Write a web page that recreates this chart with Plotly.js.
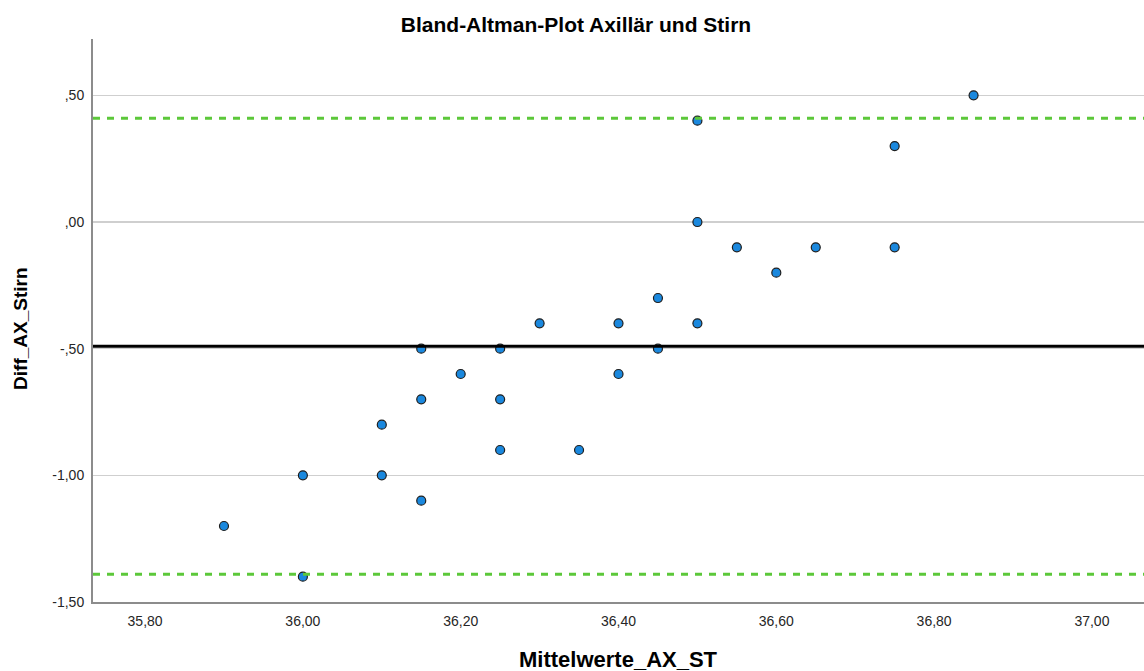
<!DOCTYPE html>
<html>
<head>
<meta charset="utf-8">
<script src="https://cdn.plot.ly/plotly-3.0.1.min.js"></script>
<style>
  html, body { margin: 0; padding: 0; background: #ffffff; }
  #chart { width: 1144px; height: 671px; }
</style>
</head>
<body>
<div id="chart"></div>
<script>
const meanValues = [35.90, 36.00, 36.00, 36.10, 36.10, 36.15, 36.15, 36.15, 36.20, 36.25, 36.25, 36.25,
                    36.30, 36.35, 36.40, 36.40, 36.45, 36.45, 36.50, 36.50, 36.50, 36.55, 36.60, 36.65,
                    36.75, 36.75, 36.85];
const diffValues = [-1.20, -1.00, -1.40, -0.80, -1.00, -0.50, -0.70, -1.10, -0.60, -0.50, -0.70, -0.90,
                    -0.40, -0.90, -0.40, -0.60, -0.30, -0.50, 0.40, 0.00, -0.40, -0.10, -0.20, -0.10,
                    0.30, -0.10, 0.50];

// Reference lines (bias and limits of agreement)
const biasLine = -0.49;
const upperLimit = 0.41;
const lowerLimit = -1.39;

// Tick labels
const xTickVals = [35.8, 36.0, 36.2, 36.4, 36.6, 36.8, 37.0];
const xTickText = ["35,80", "36,00", "36,20", "36,40", "36,60", "36,80", "37,00"];
const yTickVals = [-1.5, -1.0, -0.5, 0.0, 0.5];
const yTickText = ["-1,50", "-1,00", "-,50", ",00", ",50"];

const titleText = "Bland-Altman-Plot Axillär und Stirn";
const xTitle = "Mittelwerte_AX_ST";
const yTitle = "Diff_AX_Stirn";

const FONT = "Liberation Sans, Arial, sans-serif";

const trace = {
  type: "scatter",
  mode: "markers",
  x: meanValues,
  y: diffValues,
  marker: {
    size: 9,
    color: "#1a88de",
    line: { color: "#1e1e1e", width: 1.2 }
  },
  hoverinfo: "x+y",
  showlegend: false
};

function hline(y, color, width, dash) {
  return {
    type: "line", xref: "paper", x0: 0, x1: 1, yref: "y", y0: y, y1: y,
    line: { color: color, width: width, dash: dash },
    layer: "above"
  };
}

const layout = {
  width: 1144,
  height: 671,
  margin: { l: 93, r: 0, t: 39, b: 69, pad: 0 },
  paper_bgcolor: "#ffffff",
  plot_bgcolor: "#ffffff",
  font: { family: FONT, color: "#262626", size: 14 },
  title: {
    text: "<b>" + titleText + "</b>",
    font: { family: FONT, size: 21, color: "#000000" },
    xref: "container", x: 0.5035, xanchor: "center",
    yref: "container", y: 1 - 25 / 671, yanchor: "middle"
  },
  xaxis: {
    range: [35.734, 37.066],
    tickmode: "array",
    tickvals: xTickVals,
    ticktext: xTickText,
    ticks: "",
    showgrid: false,
    zeroline: false,
    showline: true,
    linecolor: "#8c8c8c",
    linewidth: 2,
    tickfont: { family: FONT, size: 14, color: "#262626" },
    ticklabelstandoff: 5,
    fixedrange: true
  },
  yaxis: {
    range: [-1.5, 0.7225],
    tickmode: "array",
    tickvals: yTickVals,
    ticktext: yTickText,
    ticks: "",
    showgrid: true,
    gridcolor: "#cfcfcf",
    gridwidth: 1.5,
    zeroline: false,
    showline: true,
    linecolor: "#8c8c8c",
    linewidth: 2,
    tickfont: { family: FONT, size: 14, color: "#262626" },
    ticklabelstandoff: 4,
    fixedrange: true
  },
  shapes: [
    hline(biasLine, "#000000", 3, "solid"),
    hline(upperLimit, "#5cc83a", 3, "7px,7px"),
    hline(lowerLimit, "#5cc83a", 3, "7px,7px")
  ],
  annotations: [
    {
      text: "<b>" + xTitle + "</b>",
      xref: "paper", x: 0.5, xanchor: "center",
      yref: "paper", y: 0, yanchor: "middle", yshift: -57,
      showarrow: false,
      font: { family: FONT, size: 22, color: "#000000" }
    },
    {
      text: "<b>" + yTitle + "</b>",
      xref: "paper", x: 0, xanchor: "center", xshift: -72,
      yref: "paper", y: 0.485, yanchor: "middle",
      textangle: -90,
      showarrow: false,
      font: { family: FONT, size: 19, color: "#000000" }
    }
  ],
  showlegend: false
};

Plotly.newPlot("chart", [trace], layout, { displayModeBar: false, staticPlot: true });
</script>
</body>
</html>
